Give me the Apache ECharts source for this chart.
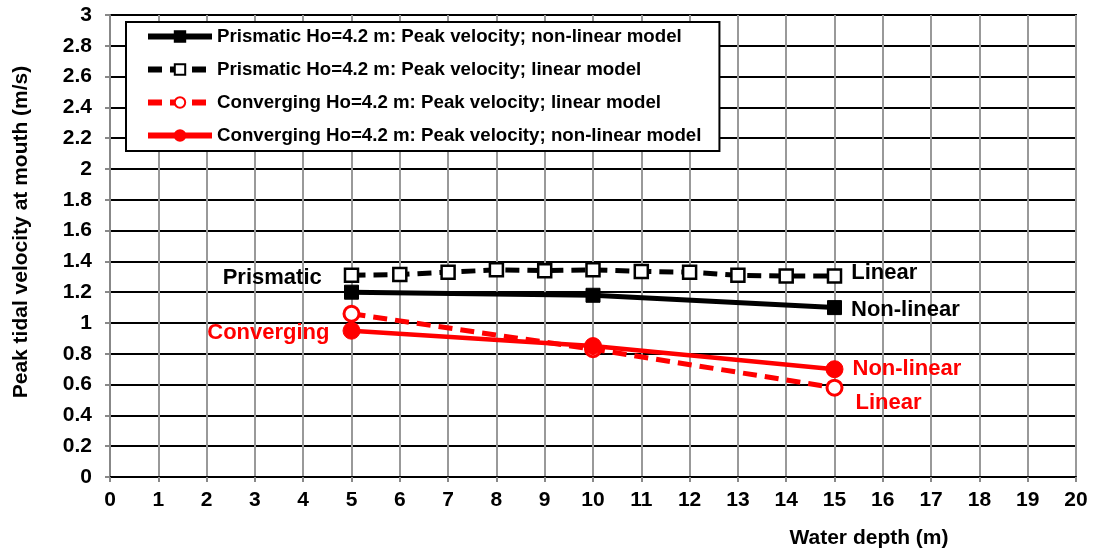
<!DOCTYPE html>
<html><head><meta charset="utf-8">
<script src="https://cdn.jsdelivr.net/npm/echarts@6/dist/echarts.min.js"></script>
<style>html,body{margin:0;padding:0;background:#fff}#c{width:1094px;height:551px}</style>
</head><body><div id="c"></div>
<script>
const prisNonLinX = [5, 10, 15];
const prisNonLinY = [1.20, 1.18, 1.10];
const prisLinX = [5, 6, 7, 8, 9, 10, 11, 12, 13, 14, 15];
const prisLinY = [1.31, 1.315, 1.33, 1.345, 1.34, 1.345, 1.335, 1.33, 1.31, 1.305, 1.305];
const convLinX = [5, 10, 15];
const convLinY = [1.06, 0.83, 0.58];
const convNonLinX = [5, 10, 15];
const convNonLinY = [0.95, 0.85, 0.70];
const seriesNames = [
  'Prismatic Ho=4.2 m: Peak velocity; non-linear model',
  'Prismatic Ho=4.2 m: Peak velocity; linear model',
  'Converging Ho=4.2 m: Peak velocity; linear model',
  'Converging Ho=4.2 m: Peak velocity; non-linear model'
];
const xTitle = 'Water depth (m)';
const yTitle = 'Peak tidal velocity at mouth (m/s)';

const FONT = 'Liberation Sans, Arial, sans-serif';
function pts(xs, ys){ return xs.map((x,i)=>[x, ys[i]]); }
function lbl(d, idx, text, pos, color, off){
  return d.map((p,i)=> i===idx ? {value:(p.value||p), label:{show:true, formatter:text, position:pos, offset:off||[0,0], color:color, fontFamily:FONT, fontWeight:'bold', fontSize:22}} : p);
}
const chart = echarts.init(document.getElementById('c'), null, {renderer:'canvas'});
let s0 = pts(prisNonLinX, prisNonLinY);
s0 = lbl(s0, 2, 'Non-linear', 'right', '#000', [4, 2]);
let s1 = pts(prisLinX, prisLinY);
s1 = lbl(s1, 0, 'Prismatic', 'left', '#000', [-17, 3]);
s1 = lbl(s1, 10, 'Linear', 'right', '#000', [4, -3]);
let s2 = pts(convLinX, convLinY);
s2 = lbl(s2, 2, 'Linear', 'right', 'red', [7, 15]);
let s3 = pts(convNonLinX, convNonLinY);
s3 = lbl(s3, 0, 'Converging', 'left', 'red', [-8, 2]);
s3 = lbl(s3, 2, 'Non-linear', 'right', 'red', [4, 0]);

chart.setOption({
  animation:false,
  backgroundColor:'#fff',
  grid:{left:110, right:18, top:15, bottom:74, show:true, borderColor:'#000', borderWidth:2},
  legend:{
    orient:'vertical', left:126, top:22, itemWidth:64, itemHeight:13, itemGap:14,
    padding:[5,18,6,19], backgroundColor:'#fff', borderColor:'#000', borderWidth:2,
    lineStyle:{width:6},
    textStyle:{fontFamily:FONT, fontWeight:'bold', fontSize:18.7, color:'#000'},
    data:seriesNames
  },
  xAxis:{
    type:'value', min:0, max:20, interval:1,
    axisLine:{show:true, lineStyle:{color:'#000', width:2}},
    axisTick:{show:true, length:5, lineStyle:{color:'#888', width:2}},
    axisLabel:{fontFamily:FONT, fontWeight:'bold', fontSize:21, color:'#000', margin:13},
    splitLine:{show:true, lineStyle:{color:'#999', width:2}}
  },
  yAxis:{
    type:'value', min:0, max:3, interval:0.2,
    axisLine:{show:true, lineStyle:{color:'#888', width:2}},
    axisTick:{show:true, length:5, lineStyle:{color:'#888', width:2}},
    axisLabel:{fontFamily:FONT, fontWeight:'bold', fontSize:21, color:'#000', margin:18,
      formatter:v=>String(Math.round(v*10)/10)},
    splitLine:{show:true, lineStyle:{color:'#000', width:2}}
  },
  graphic:[
    {type:'text', x:869, y:538, style:{text:xTitle, fontFamily:FONT, fontWeight:'bold', fontSize:21, fill:'#000', align:'center', verticalAlign:'middle'}},
    {type:'text', x:21, y:232, rotation:Math.PI/2, style:{text:yTitle, fontFamily:FONT, fontWeight:'bold', fontSize:21, fill:'#000', align:'center', verticalAlign:'middle'}}
  ],
  series:[
    {name:seriesNames[0], type:'line', data:s0, symbol:'rect', symbolSize:14,
     lineStyle:{color:'#000', width:5}, itemStyle:{color:'#000', borderColor:'#000', borderWidth:1}, z:3},
    {name:seriesNames[1], type:'line', data:s1, symbol:'rect', symbolSize:13,
     lineStyle:{color:'#000', width:5, type:[14,8]}, itemStyle:{color:'#fff', borderColor:'#000', borderWidth:2.5}, z:4},
    {name:seriesNames[2], type:'line', data:s2, symbol:'circle', symbolSize:15,
     lineStyle:{color:'red', width:5, type:[14,8]}, itemStyle:{color:'#fff', borderColor:'red', borderWidth:3}, z:5},
    {name:seriesNames[3], type:'line', data:s3, symbol:'circle', symbolSize:17,
     lineStyle:{color:'red', width:4.5}, itemStyle:{color:'red', borderColor:'red', borderWidth:1}, z:6}
  ]
});
</script></body></html>
